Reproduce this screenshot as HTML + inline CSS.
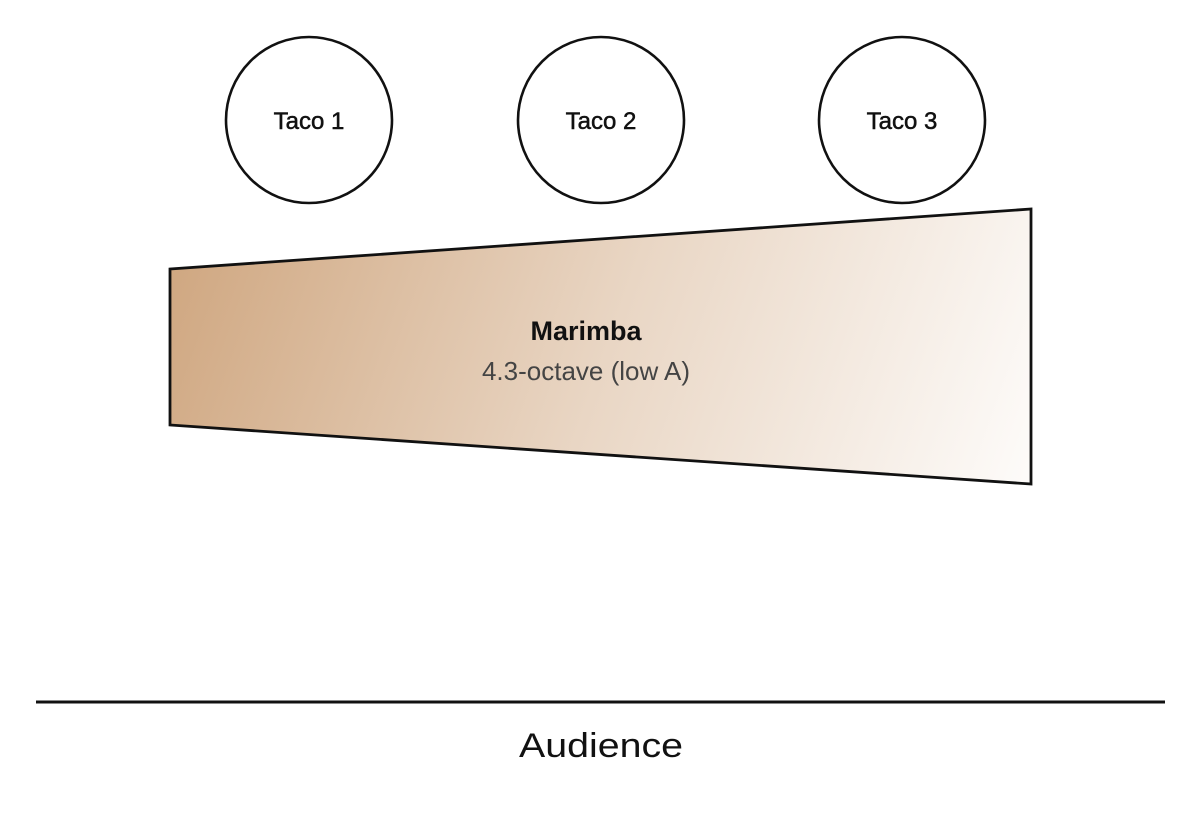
<!DOCTYPE html>
<html><head><meta charset="utf-8"><style>
html,body{margin:0;padding:0;background:#fff;}
svg{display:block;}
text{font-family:"Liberation Sans","DejaVu Sans",sans-serif;fill:#111;}
</style></head><body>
<svg width="1200" height="815" viewBox="0 0 1200 815" xmlns="http://www.w3.org/2000/svg">
<defs>
<linearGradient id="g" gradientUnits="userSpaceOnUse" x1="190" y1="230" x2="1010" y2="520">
<stop offset="0" stop-color="#d0a882"/>
<stop offset="0.5" stop-color="#e9d6c4"/>
<stop offset="1" stop-color="#fdfbf9"/>
</linearGradient>
</defs>
<circle cx="309" cy="120" r="83" fill="#fff" stroke="#111" stroke-width="2.6"/>
<circle cx="601" cy="120" r="83" fill="#fff" stroke="#111" stroke-width="2.6"/>
<circle cx="902" cy="120" r="83" fill="#fff" stroke="#111" stroke-width="2.6"/>
<g style="stroke:#111;stroke-width:0.5">
<text x="309" y="129" font-size="24" text-anchor="middle">Taco 1</text>
<text x="601" y="129" font-size="24" text-anchor="middle">Taco 2</text>
<text x="902" y="129" font-size="24" text-anchor="middle">Taco 3</text>
</g>
<polygon points="170,269 1031,209 1031,484 170,425" fill="url(#g)" stroke="#111" stroke-width="2.8" stroke-linejoin="miter"/>
<text x="586" y="340" font-size="27" font-weight="bold" text-anchor="middle">Marimba</text>
<text x="586" y="380" font-size="26" text-anchor="middle" style="fill:#444">4.3-octave (low A)</text>
<line x1="36" y1="702" x2="1165" y2="702" stroke="#111" stroke-width="3"/>
<text x="601" y="757" font-size="34" text-anchor="middle" textLength="164" lengthAdjust="spacingAndGlyphs">Audience</text>
</svg>
</body></html>
